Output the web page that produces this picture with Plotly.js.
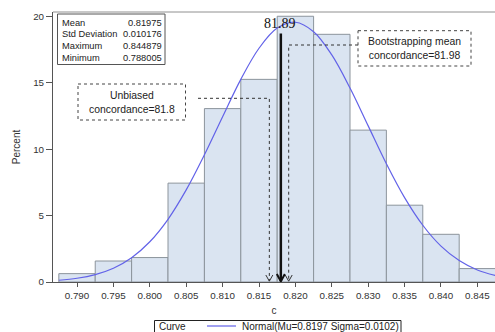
<!DOCTYPE html>
<html>
<head>
<meta charset="utf-8">
<script src="https://cdn.plot.ly/plotly-3.0.1.min.js"></script>
<style>html,body{margin:0;padding:0;background:#fff;}#chart{width:495px;height:332px;}</style>
</head>
<body>
<div id="chart"></div>
<script>
// ---- data ----
const binCenters = [0.790, 0.795, 0.800, 0.805, 0.810, 0.815, 0.820, 0.825, 0.830, 0.835, 0.840, 0.845];
const binPercents = [0.63, 1.58, 1.84, 7.44, 13.05, 15.25, 20.0, 18.64, 11.43, 5.78, 3.59, 1.01];
const curveX = [0.7875, 0.7900, 0.7925, 0.7950, 0.7975, 0.8000, 0.8025, 0.8050, 0.8075, 0.8100, 0.8125, 0.8150, 0.8175, 0.8200, 0.8225, 0.8250, 0.8275, 0.8300, 0.8325, 0.8350, 0.8375, 0.8400, 0.8425, 0.8450, 0.8475];
const curveY = [0.13, 0.28, 0.56, 1.04, 1.83, 3.03, 4.72, 6.93, 9.57, 12.44, 15.25, 17.59, 19.11, 19.55, 18.84, 17.09, 14.60, 11.75, 8.90, 6.35, 4.27, 2.70, 1.61, 0.90, 0.48];
const curveName = "Normal(Mu=0.8197 Sigma=0.0102)";
const legendTitle = "Curve";
const statLabels = ["Mean", "Std Deviation", "Maximum", "Minimum"];
const statValues = ["0.81975", "0.010176", "0.844879", "0.788005"];
const markedValue = 0.8180;        // solid arrow, labelled 81.89
const markedLabel = "81.89";
const unbiasedValue = 0.81642;     // dotted arrow
const unbiasedText = "Unbiased<br>concordance=81.8";
const bootValue = 0.81908;         // dotted arrow
const bootText = "Bootstrapping mean<br>concordance=81.98";

// ---- geometry helpers (pixel -> paper) ----
const X0 = 53, PW = 442, Y0 = 282, PH = 270;
const XMIN = 0.78670, XMAX = 0.84742, YMAX = 20.32;
const px = x => (x - X0) / PW;
const py = y => (Y0 - y) / PH;
const dxOf = p => p * (XMAX - XMIN) / PW;   // pixel width -> data
const dyOf = p => p * YMAX / PH;            // pixel height -> data
const yAt = y => (Y0 - y) * YMAX / PH;
const xAt = x => XMIN + (x - X0) * (XMAX - XMIN) / PW;

const SANS = 'Arial, "Liberation Sans", sans-serif';
const SERIF = '"Liberation Serif", "Times New Roman", serif';
const CURVE_COLOR = '#6262e8';

const bars = {
  type: 'bar', x: binCenters, y: binPercents, width: 0.005,
  marker: {color: '#dae4f1', line: {color: '#8c949c', width: 1}},
  showlegend: false, hoverinfo: 'skip'
};
const curve = {
  type: 'scatter', mode: 'lines', x: curveX, y: curveY, name: curveName,
  line: {color: CURVE_COLOR, width: 1.2, shape: 'spline'}, showlegend: false
};

const shapes = [];
const annotations = [];

// top frame line
shapes.push({type:'line', xref:'paper', yref:'paper', x0:0, x1:1, y0:1, y1:1, line:{color:'#909090', width:1}});

// stats box
shapes.push({type:'rect', xref:'paper', yref:'paper', x0:px(57.5), x1:px(165), y0:py(14), y1:py(64.5), line:{color:'#555', width:1}, fillcolor:'rgba(0,0,0,0)'});
const rowY = [22.7, 34.4, 46.1, 57.8];
statLabels.forEach((t, i) => {
  annotations.push({xref:'paper', yref:'paper', x:px(59.5), y:py(rowY[i]), xanchor:'left', yanchor:'middle', text:t, showarrow:false, font:{family:SANS, size:9.3, color:'#222'}});
  annotations.push({xref:'paper', yref:'paper', x:px(163.5), y:py(rowY[i]), xanchor:'right', yanchor:'middle', text:statValues[i], showarrow:false, font:{family:SANS, size:9.3, color:'#222'}});
});

// solid arrow
shapes.push({type:'line', xref:'x', yref:'y', x0:markedValue, x1:markedValue, y0:dyOf(0.8), y1:yAt(33.5), line:{color:'#111', width:2.5}});
shapes.push({type:'path', xref:'x', yref:'y', path:`M${markedValue-dxOf(4)},${dyOf(8)} L${markedValue},${dyOf(0.6)} L${markedValue+dxOf(4)},${dyOf(8)}`, line:{color:'#111', width:2}});
annotations.push({xref:'paper', yref:'paper', x:px(280), y:py(24), xanchor:'center', yanchor:'middle', text:markedLabel, showarrow:false, font:{family:SERIF, size:14, color:'#111'}});

// unbiased arrow (dotted)
const unbY = yAt(98.3);
shapes.push({type:'path', xref:'x', yref:'y', path:`M${xAt(198)},${unbY} L${unbiasedValue},${unbY} L${unbiasedValue},${dyOf(1)}`, line:{color:'#333', width:1, dash:'dot'}});
shapes.push({type:'path', xref:'x', yref:'y', path:`M${unbiasedValue-dxOf(3.5)},${dyOf(7)} L${unbiasedValue},${dyOf(0.8)} L${unbiasedValue+dxOf(3.5)},${dyOf(7)}`, line:{color:'#333', width:1}});
shapes.push({type:'rect', xref:'paper', yref:'paper', x0:px(78), x1:px(185.5), y0:py(84), y1:py(120), line:{color:'#444', width:1, dash:'dot'}, fillcolor:'#fff'});
annotations.push({xref:'paper', yref:'paper', x:px(131.5), y:py(102.5), xanchor:'center', yanchor:'middle', text:unbiasedText, showarrow:false, font:{family:SANS, size:10.4, color:'#222'}});

// bootstrap arrow (dotted)
const bootY = yAt(45);
shapes.push({type:'path', xref:'x', yref:'y', path:`M${xAt(358)},${bootY} L${bootValue},${bootY} L${bootValue},${dyOf(1)}`, line:{color:'#333', width:1, dash:'dot'}});
shapes.push({type:'path', xref:'x', yref:'y', path:`M${bootValue-dxOf(3.5)},${dyOf(7)} L${bootValue},${dyOf(0.8)} L${bootValue+dxOf(3.5)},${dyOf(7)}`, line:{color:'#333', width:1}});
shapes.push({type:'rect', xref:'paper', yref:'paper', x0:px(358), x1:px(471), y0:py(30.7), y1:py(66), line:{color:'#444', width:1, dash:'dot'}, fillcolor:'#fff'});
annotations.push({xref:'paper', yref:'paper', x:px(414.5), y:py(48.3), xanchor:'center', yanchor:'middle', text:bootText, showarrow:false, font:{family:SANS, size:10.4, color:'#222'}});

// legend (drawn by hand so it stays a single row at the very bottom)
const LEG_Y = 326;
shapes.push({type:'rect', xref:'paper', yref:'paper', x0:px(154.5), x1:px(401), y0:py(320.5), y1:py(345), line:{color:'#222', width:1}, fillcolor:'#fff'});
shapes.push({type:'line', xref:'paper', yref:'paper', x0:px(207), x1:px(236), y0:py(LEG_Y), y1:py(LEG_Y), line:{color:CURVE_COLOR, width:1.2}});
annotations.push({xref:'paper', yref:'paper', x:px(157), y:py(LEG_Y), xanchor:'left', yanchor:'middle', text:legendTitle, showarrow:false, font:{family:SANS, size:10, color:'#222'}});
annotations.push({xref:'paper', yref:'paper', x:px(239.5), y:py(LEG_Y), xanchor:'left', yanchor:'middle', text:curveName, showarrow:false, font:{family:SANS, size:10, color:'#222'}});

const layout = {
  width: 495, height: 332,
  margin: {l: X0, r: 495 - X0 - PW, t: Y0 - PH, b: 332 - Y0, pad: 0, autoexpand: false},
  paper_bgcolor: '#fff', plot_bgcolor: '#fff',
  font: {family: SANS, size: 10, color: '#333'},
  bargap: 0,
  xaxis: {
    range: [XMIN, XMAX], tick0: 0.79, dtick: 0.005, tickformat: '.3f',
    showgrid: false, zeroline: false, showline: true, linecolor: '#555', linewidth: 1,
    ticks: 'outside', ticklen: 4, tickcolor: '#555', tickfont: {size: 9.8, color: '#333'},
    title: {text: 'c', font: {size: 10, color: '#333'}, standoff: 7}, automargin: false
  },
  yaxis: {
    range: [0, YMAX], dtick: 5,
    showgrid: false, zeroline: false, showline: true, linecolor: '#555', linewidth: 1,
    ticks: 'outside', ticklen: 6, tickcolor: '#555', tickfont: {size: 9.8, color: '#333'},
    title: {text: 'Percent', font: {size: 10, color: '#333'}, standoff: 10}, automargin: false
  },
  showlegend: false,
  shapes: shapes,
  annotations: annotations
};

Plotly.newPlot('chart', [bars, curve], layout, {displayModeBar: false, staticPlot: true});
</script>
</body>
</html>
